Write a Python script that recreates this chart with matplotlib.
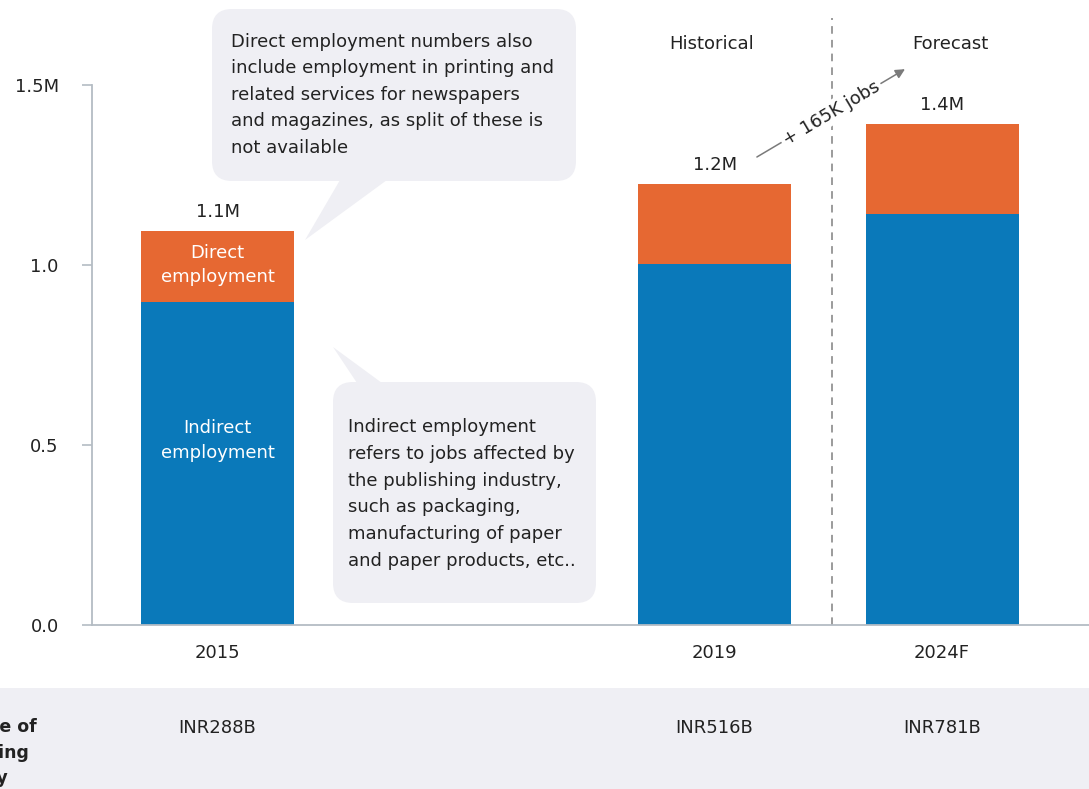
import matplotlib
matplotlib.use("Agg")
import matplotlib.pyplot as plt
from matplotlib.patches import FancyBboxPatch, Polygon, Rectangle
from matplotlib.transforms import blended_transform_factory

# data (millions of jobs)
years = ["2015", "2019", "2024F"]
x_pos = [0.0, 2.185, 3.185]
indirect = [0.897, 1.003, 1.142]
direct = [0.197, 0.222, 0.250]
total_labels = ["1.1M", "1.2M", "1.4M"]
industry_size = ["INR288B", "INR516B", "INR781B"]
yticks = [0.0, 0.5, 1.0, 1.5]
ytick_labels = ["0.0", "0.5", "1.0", "1.5M"]

blue = "#0A79BA"
orange = "#E66832"
grey_bg = "#EFEFF4"
axis_col = "#B4BCC4"
txt = "#222222"

plt.rcParams["font.family"] = "DejaVu Sans"

W, H = 1089, 789
fig = plt.figure(figsize=(W / 100, H / 100), dpi=100)

# overlay in pixel coordinates for callouts / bottom band
ov = fig.add_axes([0, 0, 1, 1], zorder=-1)
ov.set_xlim(0, W)
ov.set_ylim(H, 0)
ov.axis("off")

ax = fig.add_axes([92 / W, (H - 625) / H, (W - 92) / W, 625 / H])
ax.patch.set_alpha(0)
ax.set_xlim(-0.552, 3.831)
ax.set_ylim(0, 625 / 360)

ax.bar(x_pos, indirect, width=0.6725, color=blue, zorder=2)
ax.bar(x_pos, direct, width=0.6725, bottom=indirect, color=orange, zorder=2)

for x, lo, d, lab in zip(x_pos, indirect, direct, total_labels):
    ax.annotate(lab, (x, lo + d), xytext=(0, 7), textcoords="offset points",
                ha="center", va="bottom", fontsize=13, color=txt)

# labels inside first bar
ax.text(x_pos[0], indirect[0] + direct[0] / 2 + 0.005, "Direct\nemployment", color="white",
        ha="center", va="center", fontsize=13, linespacing=1.45, zorder=3)
ax.text(x_pos[0], 0.5125, "Indirect\nemployment", color="white",
        ha="center", va="center", fontsize=13, linespacing=1.45, zorder=3)

# axes styling
for s in ["top", "right"]:
    ax.spines[s].set_visible(False)
ax.spines["left"].set_bounds(0, 1.5)
ax.spines["left"].set_color(axis_col)
ax.spines["bottom"].set_color(axis_col)
ax.spines["left"].set_linewidth(1.3)
ax.spines["bottom"].set_linewidth(1.3)
ax.set_yticks(yticks)
ax.set_yticklabels(ytick_labels)
ax.set_xticks(x_pos)
ax.set_xticklabels(years)
ax.tick_params(axis="y", length=7, width=1.2, color=axis_col, pad=17,
               labelsize=13, labelcolor=txt)
ax.tick_params(axis="x", length=0, pad=14, labelsize=13, labelcolor=txt)

# historical / forecast divider
ax.axvline(2.70, ymin=0, ymax=(625 - 18) / 625, color="#808080", lw=1.1,
           dashes=(5, 4), zorder=1)
ax.text(2.174, 1.614, "Historical", ha="center", va="center", fontsize=13, color=txt)
ax.text(3.22, 1.614, "Forecast", ha="center", va="center", fontsize=13, color=txt)

# growth arrow
ax.annotate("", xy=(3.022, 1.544), xytext=(2.371, 1.30),
            arrowprops=dict(arrowstyle="-|>", color="#7a7a7a", lw=1.1,
                            mutation_scale=14, shrinkA=0, shrinkB=0), zorder=4)
ax.text(2.697, 1.422, "+ 165K jobs", rotation=30.7, rotation_mode="anchor",
        ha="center", va="center", fontsize=13, color=txt, zorder=5,
        bbox=dict(boxstyle="square,pad=0.15", fc="white", ec="none"))

# callout boxes
ov.add_patch(FancyBboxPatch((212, 9), 364, 172, boxstyle="round,pad=0,rounding_size=20",
                            fc=grey_bg, ec="none"))
ov.add_patch(Polygon([(340, 180), (387, 180), (305, 240)], closed=True, fc=grey_bg, ec="none"))
ov.text(231, 33, "Direct employment numbers also\ninclude employment in printing and\n"
        "related services for newspapers\nand magazines, as split of these is\nnot available",
        ha="left", va="top", fontsize=13, color=txt, linespacing=1.6)

ov.add_patch(FancyBboxPatch((333, 382), 263, 221, boxstyle="round,pad=0,rounding_size=20",
                            fc=grey_bg, ec="none"))
ov.add_patch(Polygon([(357, 383), (382, 383), (333, 347)], closed=True, fc=grey_bg, ec="none"))
ov.text(348, 418, "Indirect employment\nrefers to jobs affected by\nthe publishing industry,\n"
        "such as packaging,\nmanufacturing of paper\nand paper products, etc..",
        ha="left", va="top", fontsize=13, color=txt, linespacing=1.63)

# bottom band with industry size
ov.add_patch(Rectangle((0, 688), W, H - 688, fc=grey_bg, ec="none"))
tr = blended_transform_factory(ax.transData, fig.transFigure)
for x, s in zip(x_pos, industry_size):
    ax.text(x, (H - 728) / H, s, transform=tr, ha="center", va="center",
            fontsize=13, color=txt, clip_on=False)
# row label, cut off at the left edge as in the source
fig.text(-74 / W, (H - 718) / H, "Revenue of\npublishing\nindustry", ha="left", va="top",
         fontsize=12.5, fontweight="bold", color=txt, linespacing=1.55)

fig.savefig("out.png", dpi=100)
